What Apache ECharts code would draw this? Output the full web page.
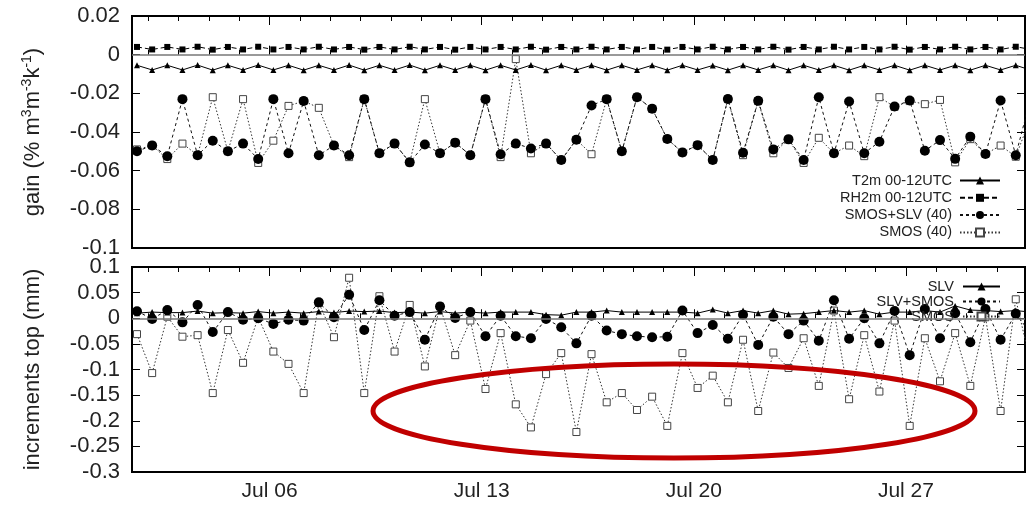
<!DOCTYPE html>
<html>
<head>
<meta charset="utf-8">
<script src="https://cdn.jsdelivr.net/npm/echarts@6/dist/echarts.min.js"></script>
<style>
html,body{margin:0;padding:0;background:#fff;}
#chart{width:1028px;height:505px;}
</style>
</head>
<body>
<div id="chart"></div>
<script>
// ---- sampling (days of July; twice-daily analyses) ----
const firstTime = 1.625;
const timeStep = 0.5;
const xTickDays = [6, 13, 20, 27];
const xTickLabels = ['Jul 06', 'Jul 13', 'Jul 20', 'Jul 27'];
const dayTicks = [2,3,4,5,6,7,8,9,10,11,12,13,14,15,16,17,18,19,20,21,22,23,24,25,26,27,28,29,30];

// ---- top panel: gain (% m3m-3k-1) ----
const t2m = [-0.0055,-0.0079,-0.0055,-0.0079,-0.0054,-0.0080,-0.0055,-0.0079,-0.0054,-0.0079,-0.0055,-0.0080,-0.0055,-0.0079,-0.0054,-0.0080,
  -0.0055,-0.0079,-0.0054,-0.0080,-0.0055,-0.0079,-0.0055,-0.0080,-0.0055,-0.0079,-0.0054,-0.0080,-0.0055,-0.0079,-0.0055,-0.0080,
  -0.0055,-0.0079,-0.0055,-0.0080,-0.0055,-0.0079,-0.0056,-0.0080,-0.0055,-0.0079,-0.0055,-0.0080,-0.0055,-0.0079,-0.0055,-0.0080,
  -0.0055,-0.0079,-0.0055,-0.0080,-0.0055,-0.0079,-0.0055,-0.0080,-0.0055,-0.0079,-0.0055,-0.0080];
const rh2m = [0.0040,0.0027,0.0040,0.0027,0.0041,0.0026,0.0040,0.0027,0.0041,0.0027,0.0040,0.0027,0.0041,0.0027,0.0040,0.0026,
  0.0040,0.0027,0.0041,0.0027,0.0040,0.0026,0.0040,0.0027,0.0040,0.0027,0.0041,0.0026,0.0040,0.0027,0.0041,0.0027,
  0.0040,0.0027,0.0040,0.0026,0.0040,0.0027,0.0041,0.0027,0.0040,0.0027,0.0041,0.0026,0.0040,0.0027,0.0041,0.0027,
  0.0040,0.0027,0.0041,0.0026,0.0040,0.0027,0.0041,0.0027,0.0040,0.0027,0.0041,0.0027];
const smosSlvGain = [-0.050,-0.047,-0.0525,-0.023,-0.052,-0.0445,-0.050,-0.046,-0.054,-0.023,-0.051,-0.024,-0.052,-0.047,-0.052,-0.023,
  -0.051,-0.046,-0.0557,-0.0465,-0.051,-0.0455,-0.052,-0.023,-0.0515,-0.046,-0.0485,-0.046,-0.0545,-0.044,-0.0263,-0.023,
  -0.050,-0.022,-0.028,-0.0436,-0.0506,-0.0468,-0.0545,-0.0229,-0.0507,-0.0239,-0.049,-0.0438,-0.0545,-0.022,-0.051,-0.0242,
  -0.051,-0.045,-0.0268,-0.0237,-0.0497,-0.0442,-0.0539,-0.0424,-0.0514,-0.0237,-0.052,-0.022];
const smosGain = [-0.049,-0.047,-0.054,-0.046,-0.052,-0.022,-0.050,-0.023,-0.056,-0.0445,-0.0265,-0.024,-0.0275,-0.047,-0.053,-0.023,
  -0.051,-0.046,-0.0557,-0.023,-0.051,-0.0455,-0.052,-0.023,-0.053,-0.0023,-0.051,-0.046,-0.0545,-0.044,-0.0515,-0.023,
  -0.050,-0.022,-0.028,-0.0436,-0.0506,-0.0468,-0.0545,-0.023,-0.052,-0.024,-0.051,-0.0438,-0.056,-0.043,-0.051,-0.047,
  -0.0525,-0.022,-0.027,-0.024,-0.0256,-0.0234,-0.0557,-0.0437,-0.0514,-0.047,-0.0528,-0.032];

// ---- bottom panel: increments top (mm) ----
const slv = [0.010,0.012,0.011,0.011,0.014,0.010,0.011,0.010,0.013,0.010,0.012,0.010,0.013,0.011,0.014,0.013,
  0.014,0.011,0.012,0.010,0.013,0.010,0.012,0.010,0.012,0.012,0.012,0.007,0.006,0.012,0.012,0.015,
  0.012,0.012,0.012,0.012,0.012,0.010,0.017,0.010,0.015,0.010,0.015,0.008,0.009,0.012,0.015,0.012,
  0.015,0.008,0.012,0.012,0.015,0.012,0.024,0.016,0.015,0.013,0.015,0.012];
const slvSmosIncr = [0.0137,-0.0013,0.016,-0.008,0.026,-0.027,0.012,-0.003,0.0,-0.011,-0.003,-0.0046,0.031,0.002,0.046,-0.023,
  0.035,0.005,0.012,-0.042,0.023,0.0007,0.012,-0.035,0.005,-0.035,-0.039,-0.0013,-0.0176,-0.049,0.005,-0.024,
  -0.031,-0.035,-0.037,-0.036,0.015,-0.029,-0.013,-0.040,0.007,-0.052,0.003,-0.031,-0.0046,-0.044,0.035,-0.040,
  0.0,-0.049,0.014,-0.072,0.018,-0.039,0.010,-0.047,0.018,-0.042,0.009,-0.030];
const smosIncr = [-0.031,-0.107,0.003,-0.036,-0.033,-0.146,-0.023,-0.087,0.002,-0.065,-0.089,-0.146,0.03,-0.037,0.079,-0.146,
  0.043,-0.065,0.026,-0.094,0.023,-0.072,-0.0046,-0.138,-0.029,-0.168,-0.213,-0.109,-0.068,-0.222,-0.070,-0.164,
  -0.146,-0.179,-0.153,-0.210,-0.068,-0.136,-0.112,-0.164,-0.042,-0.181,-0.067,-0.097,-0.039,-0.132,0.015,-0.158,
  -0.033,-0.143,-0.0046,-0.210,-0.039,-0.123,-0.029,-0.132,0.002,-0.181,0.037,-0.09];

const times = t2m.map((_, i) => firstTime + timeStep * i);
const pairs = arr => arr.map((v, i) => [times[i], v]);

const FONT = 'Liberation Sans';
const xMin = 1.46, xMax = 30.93;

function xAxes(grid, showLabels) {
  const base = {type: 'value', gridIndex: grid, min: xMin, max: xMax,
    axisLine: {show: false}, splitLine: {show: false}};
  const lbl = {show: false};
  return [
    Object.assign({}, base, {position: 'bottom',
      axisTick: {show: true, inside: true, length: 5, customValues: dayTicks, lineStyle: {color: '#000', width: 1}},
      axisLabel: showLabels ? {show: true, customValues: xTickDays, margin: 9, fontSize: 21, fontFamily: FONT, color: '#222',
        formatter: v => xTickLabels[xTickDays.indexOf(Math.round(v))] || ''} : lbl}),
    Object.assign({}, base, {position: 'bottom',
      axisTick: {show: true, inside: true, length: 9, customValues: xTickDays, lineStyle: {color: '#000', width: 1}}, axisLabel: lbl}),
    Object.assign({}, base, {position: 'top',
      axisTick: {show: true, inside: true, length: 5, customValues: dayTicks, lineStyle: {color: '#000', width: 1}}, axisLabel: lbl}),
    Object.assign({}, base, {position: 'top',
      axisTick: {show: true, inside: true, length: 9, customValues: xTickDays, lineStyle: {color: '#000', width: 1}}, axisLabel: lbl})
  ];
}

function yAxes(grid, min, max, interval, name, nameRich) {
  const base = {type: 'value', gridIndex: grid, min: min, max: max, interval: interval,
    axisLine: {show: false}, splitLine: {show: false},
    axisTick: {show: true, inside: true, length: 8, lineStyle: {color: '#000', width: 1}}};
  return [
    Object.assign({}, base, {position: 'left',
      axisLabel: {show: true, margin: 12, fontSize: 22, fontFamily: FONT, color: '#222'},
      name: name, nameLocation: 'middle', nameRotate: 90, nameGap: 86,
      nameTextStyle: {fontSize: 22, fontFamily: FONT, color: '#222', lineHeight: 26, rich: nameRich}}),
    Object.assign({}, base, {position: 'right', axisLabel: {show: false}})
  ];
}

const supRich = {
  b: {fontSize: 22, fontFamily: FONT, color: '#222', lineHeight: 26},
  s: {fontSize: 14, fontFamily: FONT, color: '#222', verticalAlign: 'top', lineHeight: 14}
};

const zeroLine = {silent: true, symbol: 'none', label: {show: false},
  lineStyle: {color: '#777', width: 1.5, type: 'solid'}, data: [{yAxis: 0}]};

function mkSeries(name, data, xIdx, yIdx, kind, z) {
  const s = {name: name, type: 'line', data: pairs(data), xAxisIndex: xIdx, yAxisIndex: yIdx,
    z: z, animation: false, clip: true, showSymbol: true};
  if (kind === 'tri') {
    Object.assign(s, {symbol: 'triangle', symbolSize: 6, itemStyle: {color: '#000'},
      lineStyle: {color: '#000', width: 1, type: 'solid'}});
  } else if (kind === 'sq') {
    Object.assign(s, {symbol: 'rect', symbolSize: 6, itemStyle: {color: '#000'},
      lineStyle: {color: '#000', width: 1, type: [5, 3]}});
  } else if (kind === 'circ') {
    Object.assign(s, {symbol: 'circle', symbolSize: 10, itemStyle: {color: '#000'},
      lineStyle: {color: '#111', width: 1, type: [3, 3]}});
  } else {
    Object.assign(s, {symbol: 'rect', symbolSize: 7,
      itemStyle: {color: '#fff', borderColor: '#444', borderWidth: 1},
      lineStyle: {color: '#333', width: 1, type: [1.5, 2]}});
  }
  return s;
}

const sTop = [
  mkSeries('T2m 00-12UTC', t2m, 0, 0, 'tri', 3),
  mkSeries('RH2m 00-12UTC', rh2m, 0, 0, 'sq', 3),
  mkSeries('SMOS+SLV (40)', smosSlvGain, 0, 0, 'circ', 3),
  mkSeries('SMOS (40)', smosGain, 0, 0, 'open', 2)
];
sTop[0].markLine = zeroLine;
const sBot = [
  mkSeries('SLV', slv, 4, 2, 'tri', 3),
  mkSeries('SLV+SMOS', slvSmosIncr, 4, 2, 'circ', 3),
  mkSeries('SMOS', smosIncr, 4, 2, 'open', 2)
];
sBot[0].markLine = zeroLine;

const option = {
  animation: false,
  backgroundColor: '#fff',
  grid: [
    {left: 132, top: 16, right: 3, height: 232, show: true, borderColor: '#000', borderWidth: 2, backgroundColor: 'transparent'},
    {left: 132, top: 267, right: 3, bottom: 33, show: true, borderColor: '#000', borderWidth: 2, backgroundColor: 'transparent'}
  ],
  xAxis: xAxes(0, false).concat(xAxes(1, true)),
  yAxis: yAxes(0, -0.1, 0.02, 0.02, '{b|gain (% m}{s|3}{b|m}{s|-3}{b|k}{s|-1}{b|)}', supRich)
    .concat(yAxes(1, -0.3, 0.1, 0.05, 'increments top (mm)', supRich)),
  legend: [
    {data: ['T2m 00-12UTC', 'RH2m 00-12UTC', 'SMOS+SLV (40)', 'SMOS (40)'], orient: 'vertical', align: 'right',
      right: 27, top: 172, padding: 0, itemWidth: 40, itemHeight: 10, itemGap: 0.3,
      textStyle: {fontSize: 14.5, fontFamily: FONT, color: '#222', lineHeight: 17, padding: [0, 3, 0, 0]}},
    {data: ['SLV', 'SLV+SMOS', 'SMOS'], orient: 'vertical', align: 'right',
      right: 27, top: 279, padding: 0, itemWidth: 37, itemHeight: 10, itemGap: 0,
      textStyle: {fontSize: 14.5, fontFamily: FONT, color: '#222', lineHeight: 15, padding: [0, 4, 0, 0]}}
  ],
  graphic: [
    {type: 'ellipse', z: 100, silent: true, shape: {cx: 674, cy: 411, rx: 301, ry: 47},
      style: {fill: 'none', stroke: '#c00000', lineWidth: 5}}
  ],
  series: sTop.concat(sBot)
};

const chart = echarts.init(document.getElementById('chart'), null, {renderer: 'canvas'});
chart.setOption(option);
</script>
</body>
</html>
